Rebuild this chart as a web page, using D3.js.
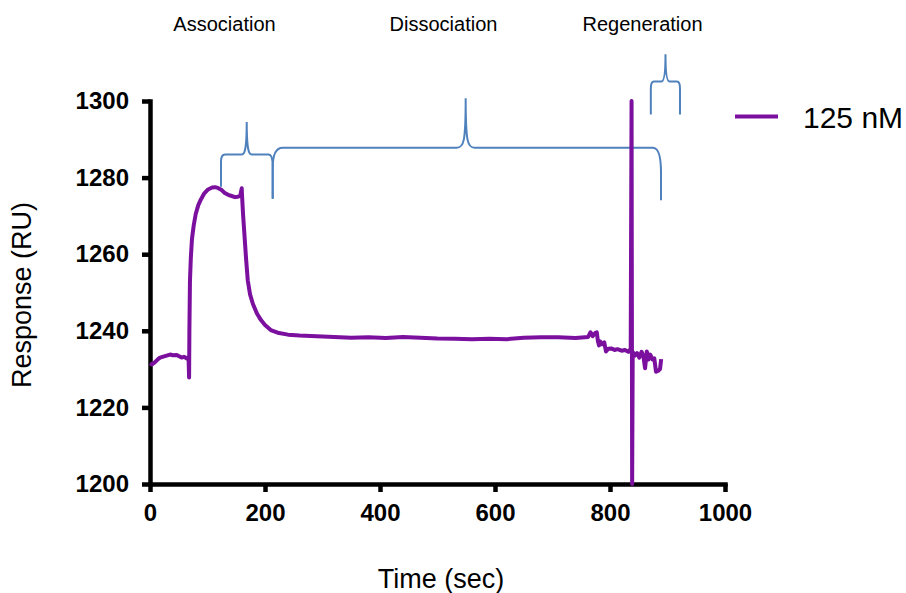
<!DOCTYPE html>
<html>
<head>
<meta charset="utf-8">
<script src="https://cdn.jsdelivr.net/npm/d3@7"></script>
<style>
  body { margin: 0; background: #fff; }
  text { font-family: Arial, "Liberation Sans", sans-serif; }
</style>
</head>
<body>
<div id="chart"></div>
<script>
// sensorgram, 125 nM (seconds, RU)
var times = [0, 3.5, 8.7, 14, 17.4, 26, 34.8, 40, 46.4, 55, 59, 64, 67,
  68, 68.5, 69.5, 71, 73, 76, 79.5, 84, 88.5, 94, 101, 108, 113, 118, 124, 130, 136, 142, 148, 153, 157, 159.5, 160,
  162, 164.5, 167, 170, 174, 179, 186, 193, 200, 210, 222, 240, 260, 290, 320, 350, 380, 410, 440, 470, 500,
  530, 560, 590, 620, 650, 680, 710, 740, 762, 766, 770, 774, 777, 779, 781, 783, 786, 790, 793, 797, 802,
  808, 813, 820, 826, 832, 836, 837.5, 838.5, 839.5, 843, 847, 851, 855, 858, 861, 864, 867, 870, 874, 877,
  880, 884, 887, 889];
var response = [1231.5, 1231.2, 1231.8, 1232.6, 1233.0, 1233.4, 1233.8, 1233.6, 1233.7, 1233.0, 1233.2, 1232.8, 1233.1,
  1227.8, 1240, 1253, 1259, 1264, 1267.5, 1270.5, 1272.8, 1274.3, 1275.8, 1276.9, 1277.4, 1277.5, 1277.3, 1276.8, 1276.0, 1275.5, 1275.2, 1274.9, 1275.0, 1275.3, 1277.2, 1275.5,
  1270, 1264.5, 1259, 1253.2, 1249.5, 1247, 1244.5, 1242.8, 1241.5, 1240.2, 1239.5, 1239.0, 1238.8, 1238.6, 1238.4, 1238.2, 1238.3, 1238.1, 1238.4, 1238.2, 1238.0,
  1237.9, 1237.8, 1237.9, 1237.8, 1238.2, 1238.3, 1238.3, 1238.1, 1238.4, 1239.6, 1238.6, 1239.4, 1239.6, 1237.3, 1236.2, 1237.2, 1236.5, 1237.0, 1234.6, 1235.3, 1235.4,
  1235.0, 1235.2, 1234.8, 1235.0, 1234.5, 1235.3, 1300, 1200, 1234.5, 1233.5, 1234.2, 1233.0, 1234.5, 1233.4, 1230.2, 1234.6, 1232.5, 1233.8, 1232.5, 1232.8,
  1229.3, 1229.6, 1230.0, 1232.6];

var xTicks = [0, 200, 400, 600, 800, 1000];
var yTicks = [1200, 1220, 1240, 1260, 1280, 1300];
var seriesName = "125 nM";

// phase annotations: brace ends, tip and heights in data units
var phases = ["Association", "Dissociation", "Regeneration"];
var braceX0 = [123.5, 213.4, 871];
var braceX1 = [213.4, 888.7, 921.7];
var braceTip = [168.2, 549, 896.5];
var braceEnd0 = [1277.6, 1274.5, 1296.5];
var braceEnd1 = [1274.5, 1274.1, 1296.5];
var braceBar = [1286.0, 1287.8, 1305.1];
var braceTop = [1294.5, 1300.7, 1312.2];

var W = 906, H = 593;
var margin = { top: 101, right: 181, bottom: 109, left: 150 };
var width = W - margin.left - margin.right,
    height = H - margin.top - margin.bottom;

var svg = d3.select("#chart").append("svg")
    .attr("width", W)
    .attr("height", H);

var g = svg.append("g")
    .attr("transform", "translate(" + margin.left + "," + margin.top + ")");

var x = d3.scaleLinear().domain([0, 1000]).range([0, width]);
var y = d3.scaleLinear().domain([1200, 1300]).range([height, 0]);

var data = times.map(function (t, i) { return [t, response[i]]; });

// axes
var axisY = g.append("g")
    .call(d3.axisLeft(y).tickValues(yTicks).tickFormat(d3.format("d"))
        .tickSize(8).tickSizeOuter(0).tickPadding(13));

var axisX = g.append("g")
    .attr("transform", "translate(0," + height + ")")
    .call(d3.axisBottom(x).tickValues(xTicks).tickFormat(d3.format("d"))
        .tickSize(8).tickSizeOuter(0));

[axisX, axisY].forEach(function (a) {
    a.select(".domain").style("stroke", "#000").style("stroke-width", 4.5)
        .style("stroke-linecap", "square");
    a.selectAll(".tick line").style("stroke", "#000").style("stroke-width", 4.5);
    a.selectAll("text")
        .style("fill", "#000")
        .attr("font-size", "24px")
        .attr("font-weight", "bold");
});

axisX.selectAll("text").attr("dy", null).attr("y", 37);

// blue braces
var blue = "#4f81bd";
var cornerL = [[4, 7], [10, 20], [3, 7]];
var cornerR = [[4, 12], [8, 25], [3, 7]];
var cusp = [5, 9, 4];

phases.forEach(function (p, i) {
    var x0 = x(braceX0[i]), x1 = x(braceX1[i]), tx = x(braceTip[i]);
    var b = y(braceBar[i]), top = y(braceTop[i]);
    var e0 = y(braceEnd0[i]), e1 = y(braceEnd1[i]);
    var rl = cornerL[i], rr = cornerR[i], w = cusp[i];
    var path = d3.path();
    path.moveTo(x0, e0);
    path.lineTo(x0, b + rl[1]);
    path.bezierCurveTo(x0, b + rl[1] * 0.3, x0 + rl[0] * 0.3, b, x0 + rl[0], b);
    path.lineTo(tx - w, b);
    path.bezierCurveTo(tx - 2, b, tx, b - 5, tx, top);
    path.bezierCurveTo(tx, b - 5, tx + 2, b, tx + w, b);
    path.lineTo(x1 - rr[0], b);
    path.bezierCurveTo(x1 - rr[0] * 0.3, b, x1, b + rr[1] * 0.3, x1, b + rr[1]);
    path.lineTo(x1, e1);
    g.append("path")
        .attr("d", path.toString())
        .attr("fill", "none")
        .attr("stroke", blue)
        .attr("stroke-width", 2);
});

// phase labels
var labelX = [224.5, 443.5, 642.5];
svg.selectAll(".phase")
    .data(phases)
    .enter().append("text")
    .attr("class", "phase")
    .attr("x", function (d, i) { return labelX[i]; })
    .attr("y", 30.5)
    .attr("text-anchor", "middle")
    .attr("font-size", "20px")
    .text(function (d) { return d; });

// sensorgram line
var purple = "#7b109f";
g.append("path")
    .datum(data)
    .attr("fill", "none")
    .attr("stroke", purple)
    .attr("stroke-width", 4)
    .attr("stroke-linejoin", "round")
    .attr("d", d3.line()
        .x(function (d) { return x(d[0]); })
        .y(function (d) { return y(d[1]); }));

// legend
var legend = svg.append("g").attr("transform", "translate(735,116.5)");
legend.append("line")
    .attr("x1", 0).attr("x2", 43)
    .attr("stroke", purple)
    .attr("stroke-width", 4);
legend.append("text")
    .attr("x", 68)
    .attr("y", 11)
    .attr("font-size", "30px")
    .text(seriesName);

// axis titles
svg.append("text")
    .attr("x", 441)
    .attr("y", 588)
    .attr("text-anchor", "middle")
    .attr("font-size", "27px")
    .text("Time (sec)");

svg.append("text")
    .attr("transform", "translate(31,295) rotate(-90)")
    .attr("text-anchor", "middle")
    .attr("font-size", "27px")
    .text("Response (RU)");
</script>
</body>
</html>
